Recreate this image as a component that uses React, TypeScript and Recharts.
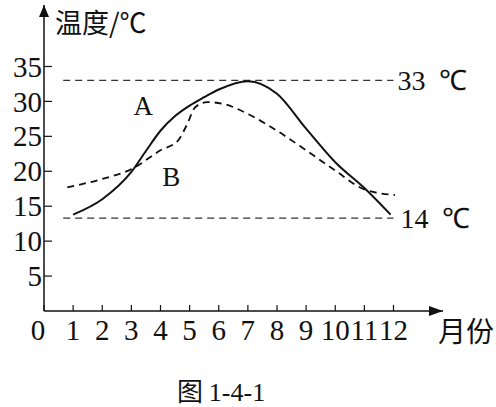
import React from "react";
import { LineChart, Line, XAxis, YAxis, ReferenceLine, ReferenceDot } from "recharts";

const monthTicks = [0, 1, 2, 3, 4, 5, 6, 7, 8, 9, 10, 11, 12];
const tempTicks = [5, 10, 15, 20, 25, 30, 35];

const monthsA = [1, 2, 3, 3.5, 4, 4.5, 5, 5.5, 6, 7, 8, 9, 10, 11, 11.9];
const tempA = [13.8, 16.0, 19.9, 22.9, 25.8, 27.9, 29.4, 30.6, 31.7, 32.9, 31.1, 26.1, 21.3, 17.6, 13.8];

const monthsB = [0.8, 2, 3, 4, 4.6, 4.9, 5.2, 5.6, 6.2, 7, 8, 9, 10, 11, 12.05];
const tempB = [17.7, 18.9, 20.3, 23.0, 24.4, 26.6, 29.2, 29.9, 29.6, 28.2, 25.8, 23.0, 20.1, 17.4, 16.6];

const highTemp = 33;
const lowLineTemp = 13.3;
const highLabel = "33\u00a0\u00a0℃";
const lowLabel = "14\u00a0\u00a0℃";

const seriesA = monthsA.map((m, i) => ({ month: m, temp: tempA[i] }));
const seriesB = monthsB.map((m, i) => ({ month: m, temp: tempB[i] }));

const serif = "'Liberation Serif', 'Times New Roman', serif";
const cjk = "'Noto Sans CJK SC', sans-serif";

const MonthTick = (props: any) => {
  const { x, y, payload } = props;
  const shift = payload.value === 0 ? -6 : 0;
  return (
    <text x={x + shift} y={y} dy="0.7em" textAnchor="middle" fontSize={29} style={{ fontFamily: serif }} fill="#111">
      {payload.value}
    </text>
  );
};

const TempTick = (props: any) => {
  const { x, y, payload } = props;
  return (
    <text x={x} y={y} dy="0.35em" textAnchor="end" fontSize={29} style={{ fontFamily: serif }} fill="#111">
      {payload.value}
    </text>
  );
};

const RightArrow = (props: any) => {
  const { cx, cy } = props;
  return <path d={`M${cx},${cy} L${cx - 14},${cy - 5} L${cx - 14},${cy + 5} Z`} fill="#111" />;
};

const UpArrow = (props: any) => {
  const { cx, cy } = props;
  return <path d={`M${cx},${cy} L${cx - 5},${cy + 12} L${cx + 5},${cy + 12} Z`} fill="#111" />;
};

const LetterMark = (text: string) => (props: any) => (
  <text x={props.cx} y={props.cy} dy="0.35em" textAnchor="middle" fontSize={27} style={{ fontFamily: serif }} fill="#111">
    {text}
  </text>
);

const lineLabel = (text: string, gap: number) => (props: any) => {
  const vb = props.viewBox || {};
  return (
    <text x={vb.x + vb.width + gap} y={vb.y} dy="0.35em" fontSize={28} style={{ fontFamily: serif }} fill="#111">
      {text}
    </text>
  );
};

export default function App() {
  return (
    <div style={{ position: "absolute", left: 0, top: 0, width: 496, height: 407, background: "#fff" }}>
      <LineChart width={496} height={407} margin={{ top: 5, right: 53, bottom: 0, left: 0 }}>
        <XAxis
          type="number"
          dataKey="month"
          domain={[0, 13.7]}
          ticks={monthTicks}
          interval={0}
          allowDataOverflow
          height={96}
          axisLine={{ stroke: "#111", strokeWidth: 1.5 }}
          tickLine={{ stroke: "#111", strokeWidth: 1.2 }}
          tickSize={-6}
          tickMargin={15}
          tick={<MonthTick />}
        />
        <YAxis
          type="number"
          dataKey="temp"
          domain={[0, 43.8]}
          ticks={tempTicks}
          interval={0}
          allowDataOverflow
          width={44}
          axisLine={{ stroke: "#111", strokeWidth: 1.5 }}
          tickLine={{ stroke: "#111", strokeWidth: 1.2 }}
          tickSize={-8}
          tickMargin={10}
          tick={<TempTick />}
        />
        <ReferenceLine
          segment={[{ x: 0.66, y: highTemp }, { x: 12, y: highTemp }]}
          stroke="#333"
          strokeWidth={1.2}
          strokeDasharray="7 5"
          label={lineLabel(highLabel, 4)}
        />
        <ReferenceLine
          segment={[{ x: 0.66, y: lowLineTemp }, { x: 12, y: lowLineTemp }]}
          stroke="#333"
          strokeWidth={1.2}
          strokeDasharray="7 5"
          label={lineLabel(lowLabel, 7)}
        />
        <Line
          data={seriesA}
          dataKey="temp"
          type="monotone"
          stroke="#111"
          strokeWidth={2}
          dot={false}
          isAnimationActive={false}
        />
        <Line
          data={seriesB}
          dataKey="temp"
          type="monotone"
          stroke="#111"
          strokeWidth={1.8}
          strokeDasharray="7 5"
          dot={false}
          isAnimationActive={false}
        />
        <ReferenceDot x={3.41} y={29.4} r={0} shape={LetterMark("A")} />
        <ReferenceDot x={4.37} y={19.3} r={0} shape={LetterMark("B")} />
        <ReferenceDot x={13.7} y={0} r={0} shape={<RightArrow />} />
        <ReferenceDot x={0} y={43.8} r={0} shape={<UpArrow />} />
      </LineChart>
      <div style={{ position: "absolute", left: 55, top: 7, fontSize: 27, lineHeight: "30px", fontFamily: cjk, color: "#111" }}>
        温度/℃
      </div>
      <div style={{ position: "absolute", left: 438, top: 314, fontSize: 28, lineHeight: "32px", fontFamily: cjk, color: "#111" }}>
        月份
      </div>
      <div style={{ position: "absolute", left: 177, top: 374, fontSize: 26, lineHeight: "32px", fontFamily: cjk, color: "#111", whiteSpace: "pre" }}>
        图 <span style={{ fontFamily: serif }}>1-4-1</span>
      </div>
    </div>
  );
}
